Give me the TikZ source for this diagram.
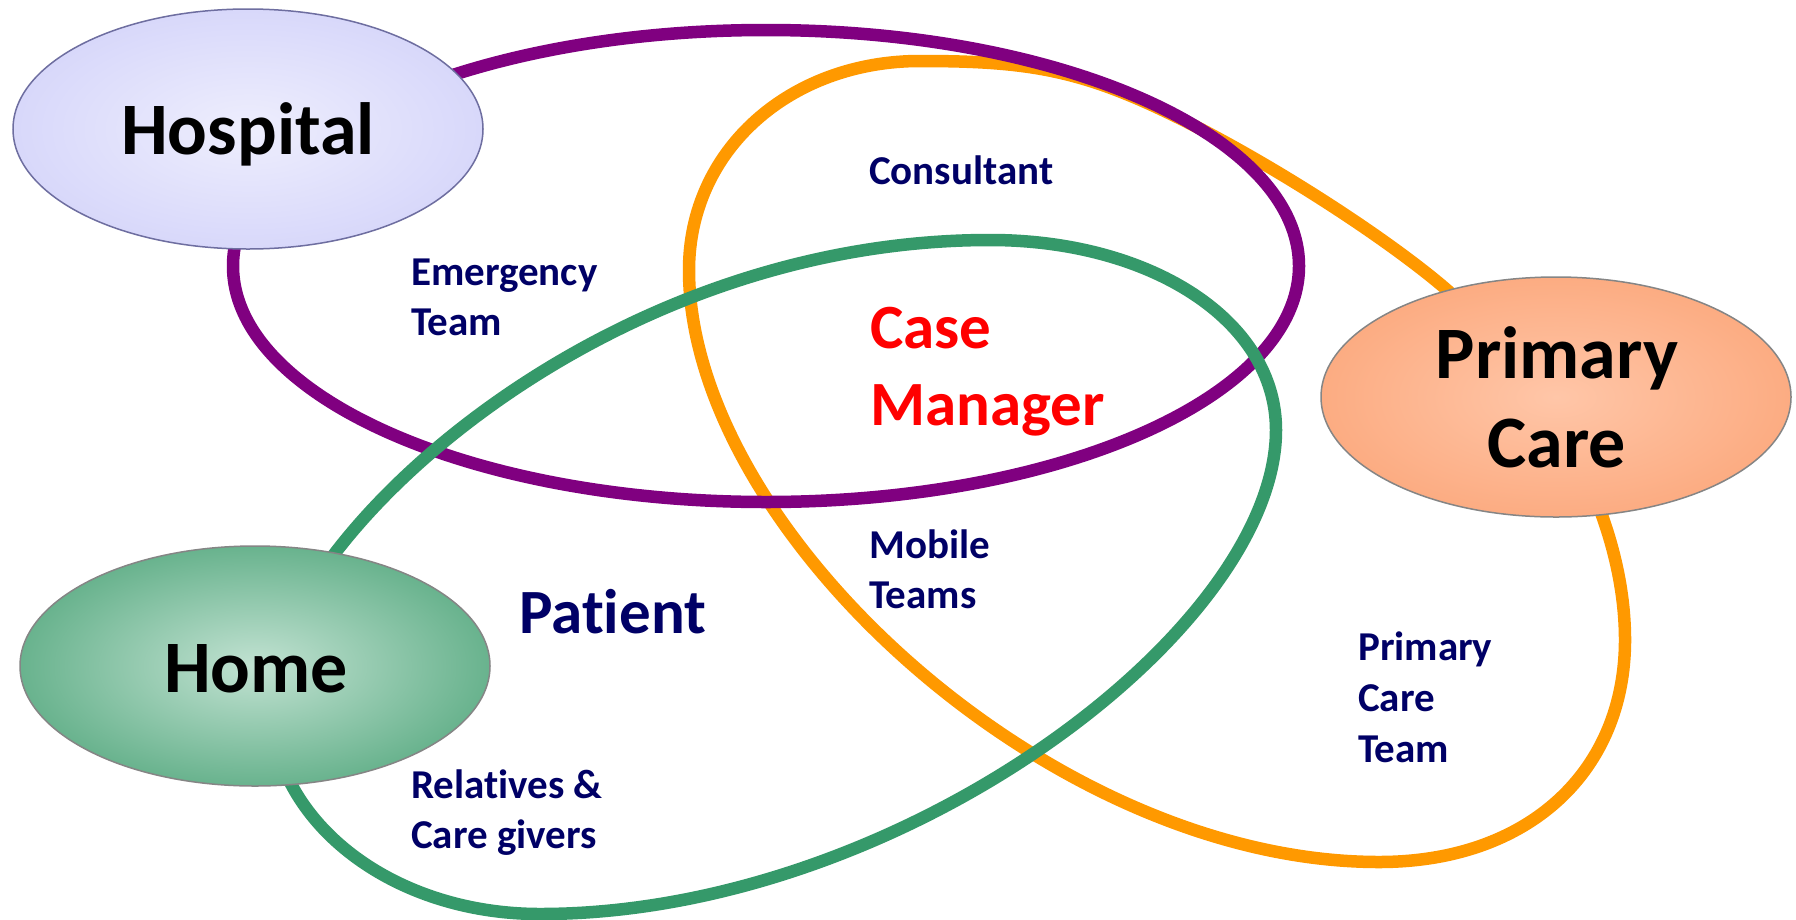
\documentclass[tikz,border=0pt]{standalone}
\usepackage{fontspec}
\setmainfont{Carlito}[Ligatures=NoCommon]
\usetikzlibrary{shapes.geometric}
\definecolor{navy}{RGB}{0,0,102}
\definecolor{purp}{RGB}{128,0,128}
\definecolor{orng}{RGB}{255,153,0}
\definecolor{grn}{RGB}{53,153,106}
\definecolor{hospin}{HTML}{EEEEFD}
\definecolor{hospout}{HTML}{C6C6F8}
\definecolor{hospedge}{HTML}{6E6EA0}
\definecolor{pcin}{HTML}{FFC6A8}
\definecolor{pcout}{HTML}{FA9A68}
\definecolor{homein}{HTML}{C2E2D2}
\definecolor{homeout}{HTML}{3A9A6A}
\definecolor{edgegray}{HTML}{858585}
\pgfdeclareradialshading{hospshade}{\pgfpoint{0bp}{0bp}}{color(0bp)=(hospin); color(45bp)=(hospout); color(50bp)=(hospout)}
\pgfdeclareradialshading{pcshade}{\pgfpoint{0bp}{0bp}}{color(0bp)=(pcin); color(42bp)=(pcout); color(50bp)=(pcout)}
\pgfdeclareradialshading{homeshade}{\pgfpoint{0bp}{0bp}}{color(0bp)=(homein); color(38bp)=(homeout); color(50bp)=(homeout)}
\newcommand{\lblock}[1]{\begin{tabular}[t]{@{}l@{}}#1\end{tabular}}
\newcommand{\cblock}[1]{\begin{tabular}[t]{@{}c@{}}#1\end{tabular}}
\begin{document}
\begin{tikzpicture}[x=1pt,y=-1pt,
  loopline/.style={line width=12.5pt, line join=round},
  place/.style={ellipse, minimum width=470pt, minimum height=240pt, inner sep=0pt, line width=1.5pt},
  bigtxt/.style={inner sep=0pt, font=\fontsize{74}{89}\selectfont\bfseries, text=black},
  lbl/.style={inner sep=0pt, anchor=base west, font=\fontsize{41}{50}\selectfont\bfseries, text=navy},
  cmtxt/.style={inner sep=0pt, anchor=base west, font=\fontsize{63}{77}\selectfont\bfseries, text=red}]
\useasboundingbox (0,0) rectangle (1796,919);
\fill[white] (0,0) rectangle (1796,919);
% loops
\draw[loopline, orng] (920,61) .. controls (790,61) and (689,150) .. (689,270)
  .. controls (689,530) and (1050,862) .. (1379,862)
  .. controls (1530,862) and (1625,770) .. (1625,640)
  .. controls (1625,500) and (1530,359) .. (1440,284)
  .. controls (1380,234) and (1273,165) .. (1183,120)
  .. controls (1083,70) and (1030,61) .. (920,61) -- cycle;
\draw[loopline, purp] (766,266) ellipse [x radius=533, y radius=236];
\draw[loopline, grn] (270,700) .. controls (270,550) and (590,240) .. (990,240)
  .. controls (1150,240) and (1276,320) .. (1276,430)
  .. controls (1276,630) and (900,914) .. (540,914)
  .. controls (390,914) and (270,820) .. (270,700) -- cycle;
% places
\node[place, draw=hospedge, shading=hospshade] (hosp) at (248,129) {};
\node[place, draw=edgegray, shading=pcshade] (prim) at (1556,397) {};
\node[place, draw=edgegray, shading=homeshade] (home) at (255,666) {};
\node[bigtxt, anchor=base] (hosptxt) at (248,154) {Hospital};
\node[bigtxt, anchor=base] (primtxt) at (1557,378) {\cblock{Primary\\Care}};
\node[bigtxt, anchor=base] (hometxt) at (256,692) {Home};
% labels
\node[lbl] (consult) at (869,184) {Consultant};
\node[lbl] (emerg) at (411,285) {\lblock{Emergency\\Team}};
\node[cmtxt] (casem) at (870,348) {\lblock{Case\\Manager}};
\node[lbl] (mobile) at (869,558) {\lblock{Mobile\\Teams}};
\node[lbl, font=\fontsize{63}{75}\selectfont\bfseries] (patient) at (519,633) {Patient};
\node[lbl, font=\fontsize{41}{51}\selectfont\bfseries] (pcteam) at (1358,660) {\lblock{Primary\\Care\\Team}};
\node[lbl] (relat) at (411,798) {\lblock{Relatives \&\\Care givers}};
\end{tikzpicture}
\end{document}
